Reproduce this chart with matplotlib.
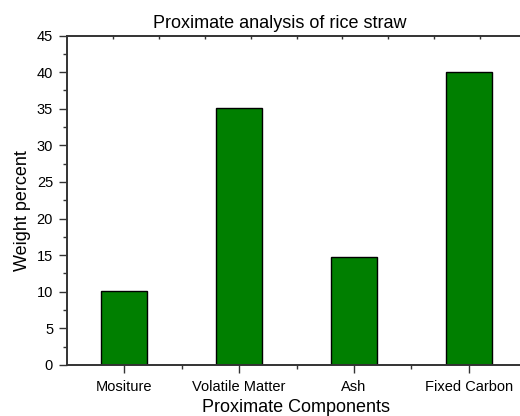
import numpy as np
import matplotlib
matplotlib.use("Agg")
import matplotlib.pyplot as plt
from matplotlib.ticker import MultipleLocator, FixedLocator

categories = ['Mositure', 'Volatile Matter', 'Ash', 'Fixed Carbon']
weights = [10.15, 35.15, 14.7, 40.0]

plt.rcParams['font.family'] = ['Liberation Sans', 'DejaVu Sans']

W, H = 520, 416
fig = plt.figure(figsize=(W/100, H/100), dpi=100)
# axes run past the right edge of the image, as in the reference
ax = fig.add_axes([67/W, 1-365/H, (526-67)/W, (365-35.5)/H])

x = np.arange(1, len(categories)+1)
ax.bar(x, weights, width=0.4, color='#007f00', edgecolor='black', linewidth=1.0, zorder=2)

ax.set_xlim(0.5, 4.5)
ax.set_ylim(0, 45)
ax.set_xticks(x)
ax.set_xticklabels(categories, fontsize=10.5)
ax.xaxis.set_minor_locator(FixedLocator(x[:-1]+0.5))
ax.yaxis.set_major_locator(MultipleLocator(5))
ax.yaxis.set_minor_locator(MultipleLocator(2.5))

ax.tick_params(axis='both', which='major', direction='out', length=6, width=1, labelsize=10.5, color='#333333')
ax.tick_params(axis='both', which='minor', direction='out', length=3, width=1, color='#333333')
ax.tick_params(axis='x', pad=5)
ax.tick_params(axis='y', pad=4)

# top axis: inward ticks, no labels
top = ax.secondary_xaxis('top')
top.set_xticks(np.arange(0.9, 4.2, 0.4))
top.tick_params(direction='in', length=3, width=1, labeltop=False, color='#333333')
top.spines['top'].set_visible(False)

for s in ['left', 'bottom', 'top', 'right']:
    ax.spines[s].set_linewidth(1.4)
    ax.spines[s].set_color('#333333')

fig.text(23/W, 1-211/H, 'Weight percent', fontsize=13, rotation=90, ha='center', va='center')
fig.text(296/W, 1-411.5/H, 'Proximate Components', fontsize=13, ha='center', va='baseline')
fig.text(280/W, 1-28.5/H, 'Proximate analysis of rice straw', fontsize=13, ha='center', va='baseline')

fig.savefig('out.png', dpi=100)
